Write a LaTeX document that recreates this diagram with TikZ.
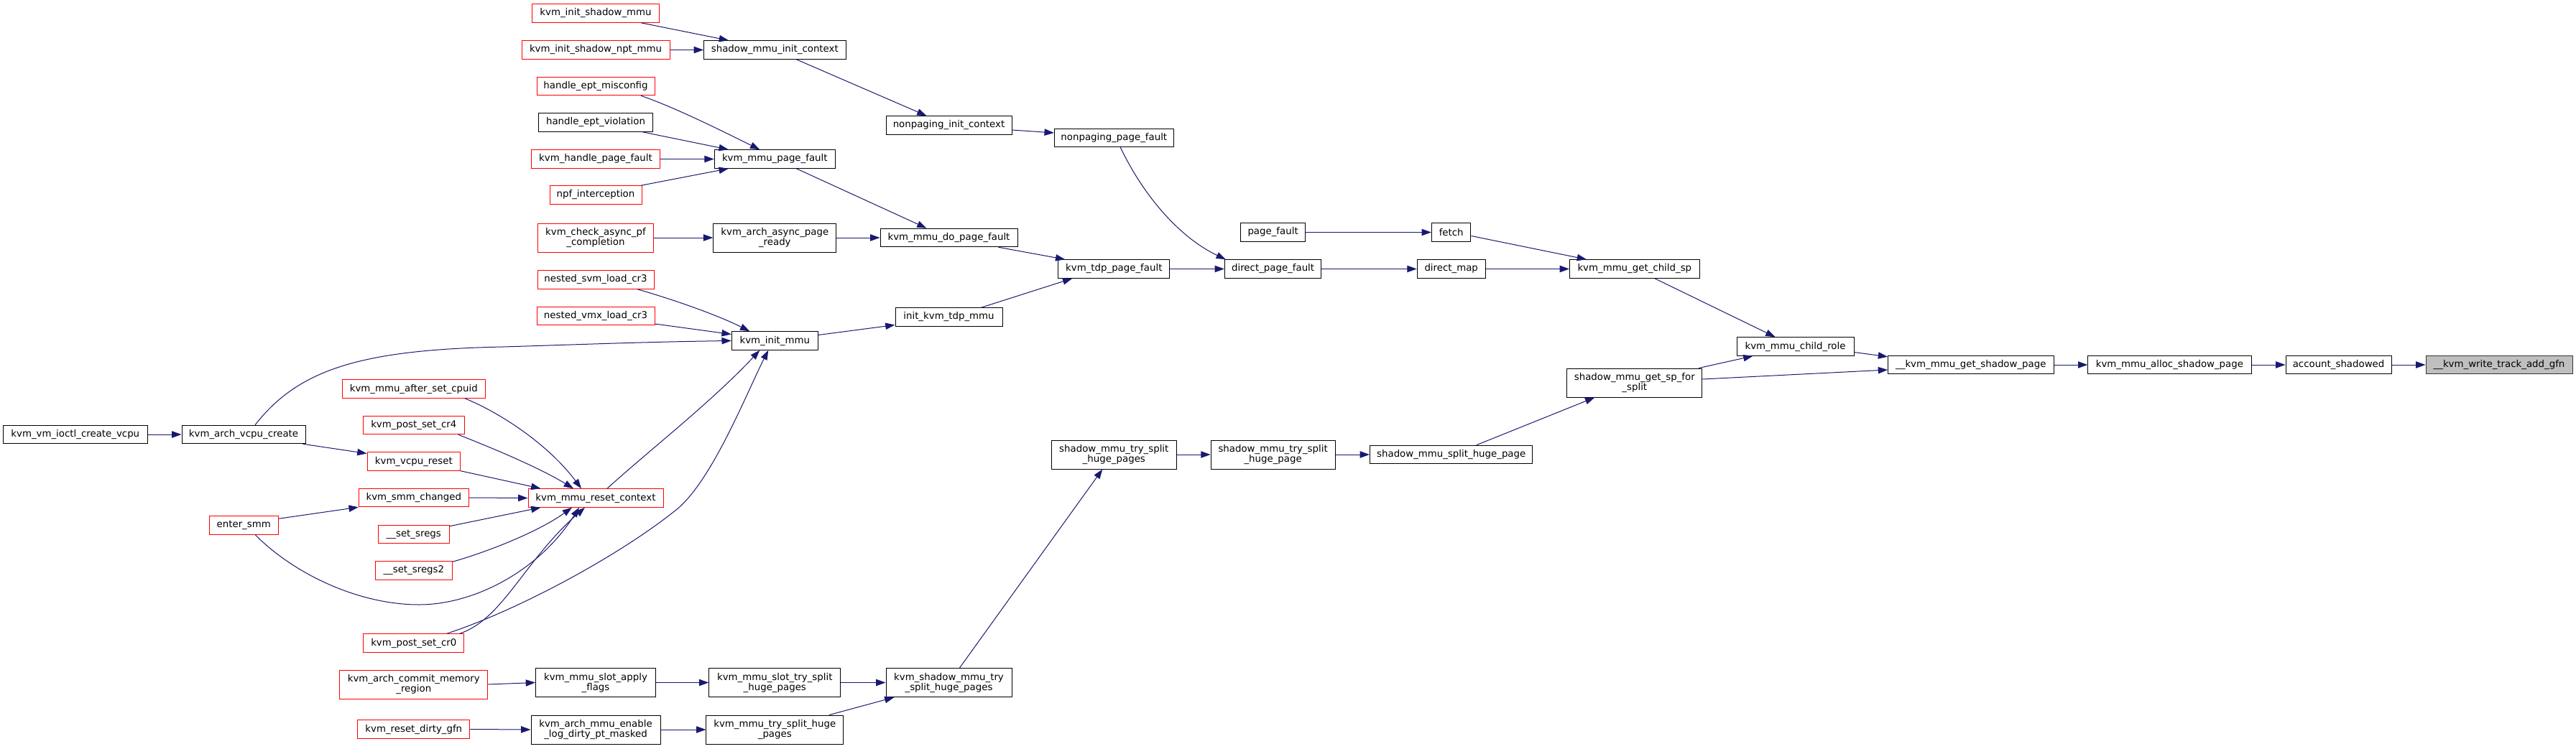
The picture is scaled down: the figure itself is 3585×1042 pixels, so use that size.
\documentclass[tikz,border=0pt]{standalone}
\usepackage{fontspec}
\setmainfont{DejaVu Sans}
\usetikzlibrary{arrows.meta,calc}
\definecolor{edgeblue}{HTML}{191970}
\definecolor{focusgray}{HTML}{BFBFBF}
\newcommand{\gfont}{\fontsize{10pt}{10.5pt}\selectfont}
\newcommand{\gnode}[7]{\pgfmathsetmacro{\gw}{#5*0.75}\pgfmathsetmacro{\gh}{#6*0.75}\node[#1, minimum width=\gw pt, minimum height=\gh pt] (#2) at (#3,#4) {#7};}
\tikzset{
  nb/.style={draw=black, fill=white, line width=0.75pt, inner sep=0pt, font=\gfont, align=center, text=black},
  nr/.style={nb, draw=red},
  nf/.style={nb, fill=focusgray, draw=black!80},
  cedge/.style={draw=edgeblue, line width=0.75pt, -{Triangle[length=10pt,width=7pt,fill=edgeblue]}},
}
\begin{document}
\begin{tikzpicture}[x=0.75pt,y=-0.75pt]
\fill[white] (0,0) rectangle (3585,1042);
\useasboundingbox (0,0) rectangle (3585,1042);
% column 1
\gnode{nb}{vmioctl}{104.8}{605}{200.4}{25.5}{kvm\_vm\_ioctl\_create\_vcpu}
% column 2
\gnode{nb}{vcpucreate}{339}{605}{172}{25.5}{kvm\_arch\_vcpu\_create}
\gnode{nr}{entersmm}{339.25}{731.5}{96.5}{25.5}{enter\_smm}
% column 3
\gnode{nr}{aftercpuid}{575.8}{541.5}{198.4}{25.5}{kvm\_mmu\_after\_set\_cpuid}
\gnode{nr}{postcr4}{575.8}{592}{140.5}{25.5}{kvm\_post\_set\_cr4}
\gnode{nr}{vcpureset}{575.8}{642.5}{129.5}{25.5}{kvm\_vcpu\_reset}
\gnode{nr}{smmchanged}{575.8}{693}{153}{25.5}{kvm\_smm\_changed}
\gnode{nr}{setsregs}{575.8}{744}{98.5}{25.5}{\_\_set\_sregs}
\gnode{nr}{setsregs2}{575.8}{794.5}{107}{25.5}{\_\_set\_sregs2}
\gnode{nr}{postcr0}{575.8}{895.5}{140}{25.5}{kvm\_post\_set\_cr0}
\gnode{nr}{commitmem}{575.8}{953}{206}{40}{kvm\_arch\_commit\_memory\\\_region}
\gnode{nr}{resetdirty}{575.8}{1015.5}{156.3}{25.5}{kvm\_reset\_dirty\_gfn}
% column 4
\gnode{nr}{shadowmmu}{829}{18.5}{177.4}{25.5}{kvm\_init\_shadow\_mmu}
\gnode{nr}{shadownpt}{829}{69.5}{206}{25.5}{kvm\_init\_shadow\_npt\_mmu}
\gnode{nr}{eptmis}{829}{120}{164}{25.5}{handle\_ept\_misconfig}
\gnode{nb}{eptvio}{829}{170.5}{159}{25.5}{handle\_ept\_violation}
\gnode{nr}{handlepf}{829}{221.5}{179}{25.5}{kvm\_handle\_page\_fault}
\gnode{nr}{npf}{829}{271.5}{128}{25.5}{npf\_interception}
\gnode{nr}{asyncpf}{829}{331}{161}{40}{kvm\_check\_async\_pf\\\_completion}
\gnode{nr}{svmcr3}{829}{389.5}{162}{25.5}{nested\_svm\_load\_cr3}
\gnode{nr}{vmxcr3}{829}{440}{164}{25.5}{nested\_vmx\_load\_cr3}
\gnode{nr}{resetctx}{829}{693.5}{188}{25.5}{kvm\_mmu\_reset\_context}
\gnode{nb}{applyflags}{829}{950.5}{167}{40}{kvm\_mmu\_slot\_apply\\\_flags}
\gnode{nb}{enablelog}{829}{1016}{180}{40}{kvm\_arch\_mmu\_enable\\\_log\_dirty\_pt\_masked}
% column 5
\gnode{nb}{initctx}{1078.3}{69.5}{197.5}{25.5}{shadow\_mmu\_init\_context}
\gnode{nb}{mmupf}{1078.3}{221.5}{168}{25.5}{kvm\_mmu\_page\_fault}
\gnode{nb}{asyncready}{1078.3}{331}{171}{40}{kvm\_arch\_async\_page\\\_ready}
\gnode{nb}{initmmu}{1078.3}{474.5}{120}{25.5}{kvm\_init\_mmu}
\gnode{nb}{slotsplit}{1078.3}{950.5}{183}{40}{kvm\_mmu\_slot\_try\_split\\\_huge\_pages}
\gnode{nb}{trysplit}{1078.3}{1016}{190.7}{40}{kvm\_mmu\_try\_split\_huge\\\_pages}
% column 6
\gnode{nb}{npinit}{1320.5}{174.5}{175}{25.5}{nonpaging\_init\_context}
\gnode{nb}{dopf}{1320.5}{331}{191}{25.5}{kvm\_mmu\_do\_page\_fault}
\gnode{nb}{tdpmmu}{1320.5}{441.5}{149}{25.5}{init\_kvm\_tdp\_mmu}
\gnode{nb}{kshsplit}{1320.5}{950.5}{175}{40}{kvm\_shadow\_mmu\_try\\\_split\_huge\_pages}
% column 7
\gnode{nb}{npftwo}{1550.3}{192}{166}{25.5}{nonpaging\_page\_fault}
\gnode{nb}{tdppf}{1550.3}{374.5}{155}{25.5}{kvm\_tdp\_page\_fault}
\gnode{nb}{shsplits}{1550.3}{633}{173.4}{40}{shadow\_mmu\_try\_split\\\_huge\_pages}
% column 8
\gnode{nb}{pagefault}{1771.6}{323.5}{90.4}{25.5}{page\_fault}
\gnode{nb}{directpf}{1771.6}{374.5}{134.4}{25.5}{direct\_page\_fault}
\gnode{nb}{shsplitone}{1771.6}{633}{173}{40}{shadow\_mmu\_try\_split\\\_huge\_page}
% column 9
\gnode{nb}{fetch}{2019.7}{323.5}{54.5}{25.5}{fetch}
\gnode{nb}{directmap}{2019.7}{374.5}{95}{25.5}{direct\_map}
\gnode{nb}{splithuge}{2019.7}{633}{226.4}{25.5}{shadow\_mmu\_split\_huge\_page}
% column 10
\gnode{nb}{childsp}{2274.8}{374.5}{180.5}{25.5}{kvm\_mmu\_get\_child\_sp}
\gnode{nb}{spsplit}{2274.8}{533}{188}{40}{shadow\_mmu\_get\_sp\_for\\\_split}
% right part
\gnode{nb}{childrole}{2498.5}{482.5}{163}{25.5}{kvm\_mmu\_child\_role}
\gnode{nb}{getshadow}{2742.8}{508}{230.4}{25.5}{\_\_kvm\_mmu\_get\_shadow\_page}
\gnode{nb}{alloc}{3019.4}{508}{227.2}{25.5}{kvm\_mmu\_alloc\_shadow\_page}
\gnode{nb}{account}{3254.5}{508}{147}{25.5}{account\_shadowed}
\gnode{nf}{target}{3478}{508}{204}{25.5}{\_\_kvm\_write\_track\_add\_gfn}
% edges
\draw[cedge] (vmioctl.east) -- (vcpucreate.west);
\draw[cedge] ($(vcpucreate.north)+(16,0)$) .. controls (415,515) and (500,487) .. (700,483) .. controls (800,480) and (900,476) .. (initmmu.west);
\draw[cedge] ($(vcpucreate.south east)+(-4,0)$) -- ($(vcpureset.west)+(0,-11)$);
\draw[cedge] ($(aftercpuid.south)+(71,0)$) .. controls (690,572) and (760,615) .. ($(resetctx.north)+(-20,0)$);
\draw[cedge] ($(postcr4.south)+(62,0)$) .. controls (670,618) and (745,648) .. ($(resetctx.north)+(-31,0)$);
\draw[cedge] (vcpureset.south east) -- ($(resetctx.north west)+(18,0)$);
\draw[cedge] (smmchanged.east) -- (resetctx.west);
\draw[cedge] ($(entersmm.north east)+(0,4)$) -- (smmchanged.south west);
\draw[cedge] ($(entersmm.south)+(16,0)$) .. controls (410,800) and (500,842) .. (583,842) .. controls (660,842) and (750,795) .. ($(resetctx.south)+(-23,0)$);
\draw[cedge] ($(setsregs.north east)+(0,2)$) -- ($(resetctx.south west)+(18,0)$);
\draw[cedge] ($(setsregs2.north east)+(0,1)$) .. controls (680,768) and (750,740) .. ($(resetctx.south)+(-33,0)$);
\draw[cedge] ($(postcr0.north)+(64,0)$) .. controls (700,862) and (730,780) .. ($(resetctx.south)+(-15,0)$);
\draw[cedge] ($(postcr0.north)+(46,0)$) .. controls (720,850) and (860,775) .. (941,710) .. controls (991,670) and (1040,545) .. ($(initmmu.south)+(-9,0)$);
\draw[cedge] ($(resetctx.north)+(16,0)$) .. controls (900,630) and (990,560) .. ($(initmmu.south)+(-21,0)$);
\draw[cedge] ($(svmcr3.south)+(58,0)$) .. controls (930,415) and (995,437) .. ($(initmmu.north)+(-35,0)$);
\draw[cedge] ($(vmxcr3.east)+(0,11)$) -- ($(initmmu.west)+(0,-9)$);
\draw[cedge] ($(initmmu.east)+(0,-8)$) -- ($(tdpmmu.west)+(0,11)$);
\draw[cedge] ($(tdpmmu.north)+(45,0)$) -- ($(tdppf.south west)+(20,0)$);
\draw[cedge] ($(shadowmmu.south)+(63,0)$) -- ($(initctx.north west)+(35,0)$);
\draw[cedge] (shadownpt.east) -- (initctx.west);
\draw[cedge] ($(initctx.south)+(30,0)$) -- ($(npinit.north)+(-31,0)$);
\draw[cedge] ($(eptmis.south)+(63,0)$) .. controls (940,150) and (1000,180) .. ($(mmupf.north)+(-21,0)$);
\draw[cedge] ($(eptvio.south)+(65,0)$) -- ($(mmupf.north west)+(20,0)$);
\draw[cedge] (handlepf.east) -- (mmupf.west);
\draw[cedge] ($(npf.north)+(63,0)$) -- ($(mmupf.south west)+(20,0)$);
\draw[cedge] ($(mmupf.south)+(30,0)$) -- ($(dopf.north)+(-31,0)$);
\draw[cedge] (asyncpf.east) -- (asyncready.west);
\draw[cedge] (asyncready.east) -- (dopf.west);
\draw[cedge] ($(npinit.east)+(0,6.5)$) -- ($(npftwo.west)+(0,-7)$);
\draw[cedge] ($(dopf.south east)+(-27,0)$) -- ($(tdppf.north west)+(10,0)$);
\draw[cedge] ($(npftwo.south)+(9,0)$) .. controls (1590,270) and (1640,330) .. ($(directpf.north west)+(2,0)$);
\draw[cedge] (tdppf.east) -- (directpf.west);
\draw[cedge] (pagefault.east) -- (fetch.west);
\draw[cedge] ($(fetch.east)+(0,5)$) -- ($(childsp.north west)+(24,0)$);
\draw[cedge] (directpf.east) -- (directmap.west);
\draw[cedge] (directmap.east) -- (childsp.west);
\draw[cedge] ($(childsp.south)+(28,0)$) -- ($(childrole.north)+(-28,0)$);
\draw[cedge] ($(childrole.east)+(0,8)$) -- ($(getshadow.north west)+(0,2)$);
\draw[cedge] ($(spsplit.north east)+(-5,0)$) -- ($(childrole.south west)+(23,0)$);
\draw[cedge] ($(spsplit.east)+(0,-5)$) -- ($(getshadow.west)+(0,7)$);
\draw[cedge] ($(splithuge.north)+(35,0)$) -- ($(spsplit.south west)+(39,0)$);
\draw[cedge] (shsplits.east) -- (shsplitone.west);
\draw[cedge] (shsplitone.east) -- (splithuge.west);
\draw[cedge] ($(kshsplit.north)+(15,0)$) -- ($(shsplits.south)+(-16,0)$);
\draw[cedge] (applyflags.east) -- (slotsplit.west);
\draw[cedge] (slotsplit.east) -- (kshsplit.west);
\draw[cedge] (enablelog.east) -- (trysplit.west);
\draw[cedge] ($(trysplit.north east)+(-20,0)$) -- ($(kshsplit.south west)+(12,0)$);
\draw[cedge] (commitmem.east) -- (applyflags.west);
\draw[cedge] (resetdirty.east) -- (enablelog.west);
\draw[cedge] (getshadow.east) -- (alloc.west);
\draw[cedge] (alloc.east) -- (account.west);
\draw[cedge] (account.east) -- (target.west);
\end{tikzpicture}
\end{document}
